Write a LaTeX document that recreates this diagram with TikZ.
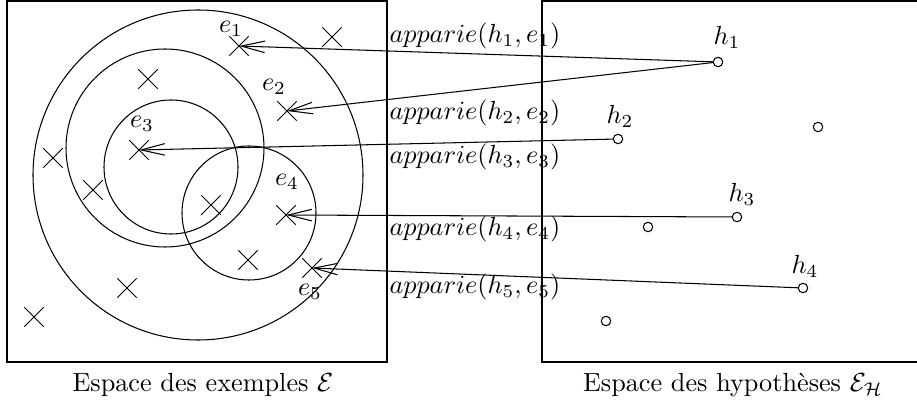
\documentclass[tikz,border=0pt]{standalone}
\usetikzlibrary{arrows.meta, positioning, shapes.misc}
\tikzset{
    example/.style={
        cross out, draw, minimum size=7pt, inner sep=0pt
    },
    hypo/.style={
        circle, draw, minimum size=3.6pt, inner sep=0pt
    },
    pairing/.style={
        anchor=west, inner sep=0pt
    },
    arr/.style={
        -{Straight Barb[length=9pt, width=4.4pt]}
    }
}

\begin{document}
\begin{tikzpicture}[x=0.3815pt, y=-0.3815pt]
    \useasboundingbox (0,0) rectangle (917,407);
    \clip (0,0) rectangle (917,407);

    % Spaces
    \draw (7,1) rectangle (387,362);
    \draw (542,1) rectangle (940,362);
    \draw (198,175) circle[radius=165];
    \draw (165,148) circle[radius=99];
    \draw (171,167) circle[radius=67];
    \draw (249,213) circle[radius=67];

    % Examples
    \node[example] (e1) at (239,46) {};
    \node[example] (e2) at (287,111) {};
    \node[example] (e3) at (139,150) {};
    \node[example] (e4) at (286,215) {};
    \node[example] (e5) at (312,268) {};
    \node[example] (o1) at (332,37) {};
    \node[example] (o2) at (148,79) {};
    \node[example] (o3) at (53,158) {};
    \node[example] (o4) at (93,190) {};
    \node[example] (o5) at (211,205) {};
    \node[example] (o6) at (248,260) {};
    \node[example] (o7) at (127,288) {};
    \node[example] (o8) at (34,317) {};

    \node (le1) at (231,29) {$e_1$};
    \node (le2) at (274,87) {$e_2$};
    \node (le3) at (142,124) {$e_3$};
    \node (le4) at (287,182) {$e_4$};
    \node (le5) at (310,292) {$e_5$};

    % Hypotheses
    \node[hypo] (h1) at (718,62) {};
    \node[hypo] (h2) at (618,139) {};
    \node[hypo] (h3) at (737,217) {};
    \node[hypo] (h4) at (803,288) {};
    \node[hypo] (g1) at (818,127) {};
    \node[hypo] (g2) at (648,227) {};
    \node[hypo] (g3) at (606,321) {};

    \node (lh1) at (727,37) {$h_1$};
    \node (lh2) at (620,116) {$h_2$};
    \node (lh3) at (742,194) {$h_3$};
    \node (lh4) at (805,266) {$h_4$};

    % Pairings
    \node[pairing] (p1) at (389,36) {$apparie(h_1,e_1)$};
    \node[pairing] (p2) at (389,113) {$apparie(h_2,e_2)$};
    \node[pairing] (p3) at (389,157) {$apparie(h_3,e_3)$};
    \node[pairing] (p4) at (389,229) {$apparie(h_4,e_4)$};
    \node[pairing] (p5) at (389,287) {$apparie(h_5,e_5)$};

    \draw[arr] (h1) -- (e1.center);
    \draw[arr] (h1) -- (e2.center);
    \draw[arr] (h2) -- (e3.center);
    \draw[arr] (h3) -- (e4.center);
    \draw[arr] (h4) -- (e5.center);

    % Captions
    \node (capE) at (203,385) {Espace des exemples $\mathcal{E}$};
    \node (capH) at (733,385) {Espace des hypoth\`eses $\mathcal{E}_{\mathcal{H}}$};

\end{tikzpicture}
\end{document}
